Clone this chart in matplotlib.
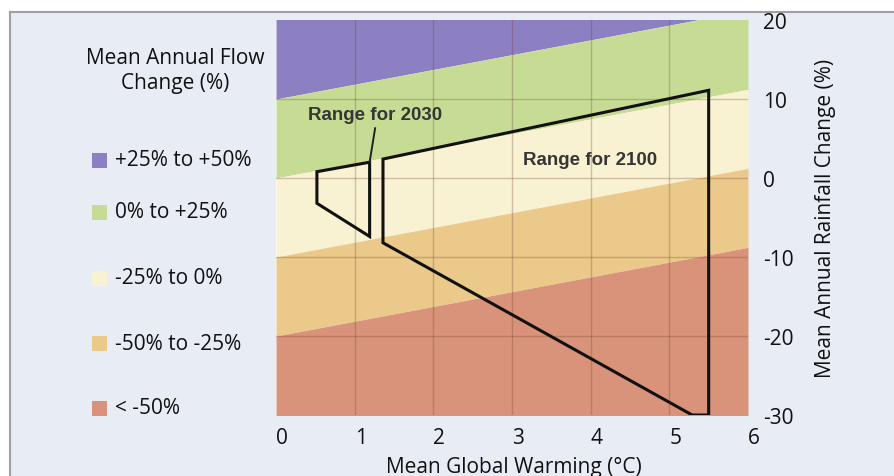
import numpy as np
import matplotlib.pyplot as plt
import matplotlib.transforms as mtransforms
from matplotlib.patches import Polygon, Rectangle
from matplotlib.lines import Line2D

plt.rcParams['font.family'] = ['Open Sans', 'DejaVu Sans']
plt.rcParams['axes.unicode_minus'] = False

# flow-change bands: boundary lines y = offset + slope * x
band_slope = 1.87
band_offsets = [10, 0, -10, -20]
band_colors = ['#8c80c2', '#c6dc95', '#f8f2d2', '#ebc98b', '#d9937a']
band_labels = ['+25% to +50%', '0% to +25%', '-25% to 0%', '-50% to -25%', '< -50%']

# range polygons (warming degC, rainfall change %)
range2030_x = [0.52, 0.52, 1.19, 1.19]
range2030_y = [0.8, -3.2, -7.4, 2.0]
leader_x = [1.19, 1.26]
leader_y = [2.0, 6.3]
range2100_x = [1.36, 5.50, 5.50, 5.29, 1.36]
range2100_y = [2.4, 11.1, -30.0, -30.0, -8.2]

x_ticks = [0, 1, 2, 3, 4, 5, 6]
y_ticks = [20, 10, 0, -10, -20, -30]

bg = '#e8ecf4'
fs = 15
fig = plt.figure(figsize=(8.94, 4.77), dpi=100)
fig.patch.set_facecolor('white')

# panel background with gray border on top/left
fig.patches.append(Rectangle((10 / 894, 0), 1, 1 - 13 / 477, transform=fig.transFigure,
                             facecolor=bg, edgecolor='none', zorder=-5))
fig.lines.append(Line2D([10 / 894, 1], [1 - 13 / 477] * 2, transform=fig.transFigure,
                        color='#a0a0a0', lw=1.5, zorder=-4))
fig.lines.append(Line2D([10 / 894] * 2, [0, 1 - 13 / 477], transform=fig.transFigure,
                        color='#a0a0a0', lw=1.5, zorder=-4))

ax = fig.add_axes([276 / 894, 1 - 416 / 477, 472 / 894, 395 / 477])
ax.set_xlim(0, 6)
ax.set_ylim(-30, 20)

xs = np.array([0, 6])
edges = [np.full(2, 60.0)] + [o + band_slope * xs for o in band_offsets] + [np.full(2, -60.0)]
for i, c in enumerate(band_colors):
    ax.fill_between(xs, edges[i + 1], edges[i], color=c, lw=0, zorder=1)

for x in x_ticks[1:-1]:
    ax.axvline(x, color='#6a3a2a', alpha=0.28, lw=1, zorder=2)
for y in y_ticks[1:-1]:
    ax.axhline(y, color='#6a3a2a', alpha=0.28, lw=1, zorder=2)

ax.add_patch(Polygon(list(zip(range2030_x, range2030_y)), closed=True, fill=False,
                     edgecolor='#111111', lw=2.2, zorder=3))
ax.plot(leader_x, leader_y, color='#222222', lw=1.4, zorder=3)
ax.add_patch(Polygon(list(zip(range2100_x, range2100_y)), closed=True, fill=False,
                     edgecolor='#111111', lw=2.2, zorder=3, clip_on=True))

ax.text(0.41, 8.0, 'Range for 2030', fontsize=13.5, fontweight='bold', color='#363636',
        family=['Liberation Sans', 'DejaVu Sans'], va='center', ha='left', zorder=4)
ax.text(3.14, 2.3, 'Range for 2100', fontsize=13.5, fontweight='bold', color='#363636',
        family=['Liberation Sans', 'DejaVu Sans'], va='center', ha='left', zorder=4)

for s in ax.spines.values():
    s.set_visible(False)
ax.yaxis.tick_right()
ax.yaxis.set_label_position('right')
ax.set_xticks(x_ticks)
ax.set_yticks(y_ticks)
ax.tick_params(length=0, labelsize=fs, colors='#111111')
ax.tick_params(axis='x', pad=9)
ax.tick_params(axis='y', pad=11)
shift = mtransforms.ScaledTranslation(6 / 100, 0, fig.dpi_scale_trans)
for lab in ax.get_xticklabels():
    lab.set_transform(lab.get_transform() + shift)
ax.set_ylabel('Mean Annual Rainfall Change (%)', fontsize=fs, labelpad=15, color='#111111')

fig.text(514 / 894, 1 - 468 / 477, 'Mean Global Warming (°C)', fontsize=fs,
         ha='center', va='center', color='#111111')

# legend
fig.text(175 / 894, 1 - 71 / 477, 'Mean Annual Flow\nChange (%)', fontsize=fs,
         ha='center', va='center', linespacing=1.2, color='#111111')
leg_y = [161, 213, 279, 344, 409]
for c, lab, py in zip(band_colors, band_labels, leg_y):
    fig.patches.append(Rectangle((92 / 894, 1 - (py + 8) / 477), 15 / 894, 15 / 477,
                                 transform=fig.transFigure, facecolor=c, edgecolor='none'))
    fig.text(115 / 894, 1 - py / 477, lab, fontsize=fs, ha='left', va='center',
             color='#111111')

fig.savefig('out.png', dpi=100, facecolor=fig.get_facecolor())
